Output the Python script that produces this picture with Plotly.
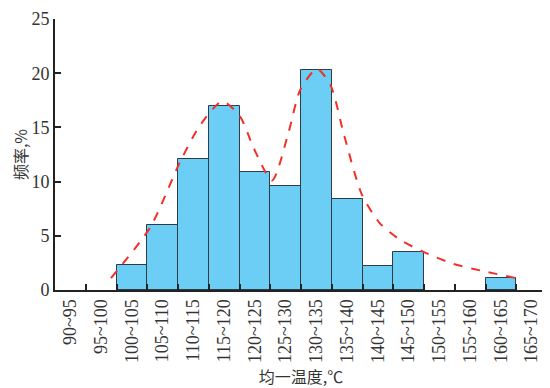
import plotly.graph_objects as go

categories = ["90~95", "95~100", "100~105", "105~110", "110~115", "115~120", "120~125",
              "125~130", "130~135", "135~140", "140~145", "145~150", "150~155",
              "155~160", "160~165", "165~170"]
bin_start = [90, 95, 100, 105, 110, 115, 120, 125, 130, 135, 140, 145, 150, 155, 160, 165]
freq = [0, 0, 2.3, 6.0, 12.1, 17.0, 10.9, 9.6, 20.3, 8.4, 2.25, 3.55, 0, 0, 1.07, 0]

curve_t = [99.1, 105.5, 110.4, 113.6, 117.2, 120.1, 122.3, 125.3, 128.0, 129.9, 132.6,
           134.8, 137.0, 139.9, 142.9, 146.2, 150.0, 154.8, 159.2, 165.2]
curve_y = [1.1, 5.8, 11.9, 15.2, 17.4, 16.0, 13.1, 10.1, 14.6, 18.5, 20.4,
           18.9, 14.3, 8.8, 6.1, 4.6, 3.5, 2.4, 1.8, 1.07]

centers = [b + 2.5 for b in bin_start]
bx = [c for c, f in zip(centers, freq) if f > 0]
by = [f for f in freq if f > 0]

font_fam = "Liberation Serif, Times New Roman, Noto Sans CJK SC, serif"

fig = go.Figure()
fig.add_trace(go.Bar(x=bx, y=by, width=5,
                     marker=dict(color="#6CCEF5", line=dict(color="#2E3C46", width=1)),
                     showlegend=False))
fig.add_trace(go.Scatter(x=curve_t, y=curve_y, mode="lines",
                         line=dict(color="#F0302A", width=2, dash="dash", shape="spline", smoothing=0.7),
                         showlegend=False))

fig.update_layout(
    width=550, height=388,
    margin=dict(l=47, r=11, t=11, b=106),
    paper_bgcolor="white", plot_bgcolor="white",
    font=dict(family=font_fam, size=17, color="#333333"),
    bargap=0,
)
fig.update_xaxes(
    range=[90, 170], tickvals=centers, ticktext=categories, tickangle=-90,
    ticks="", showgrid=False, zeroline=False, automargin=False,
    showline=True, linecolor="#222222", linewidth=2,
    tickfont=dict(size=18, family=font_fam), ticklabeloverflow="allow",
    minor=dict(tickvals=bin_start[1:] + [170], ticks="inside", ticklen=6,
               tickcolor="#222222", tickwidth=1.5, showgrid=False),
    title=dict(text="均一温度,℃", font=dict(size=16, family="Noto Sans CJK SC"), standoff=10),
)
fig.update_yaxes(
    range=[0, 25], tickvals=[0, 5, 10, 15, 20, 25],
    ticks="inside", ticklen=6, tickcolor="#222222", tickwidth=1.5,
    showgrid=False, zeroline=False, automargin=False,
    showline=True, linecolor="#222222", linewidth=2,
    tickfont=dict(size=18, family=font_fam), ticklabeloverflow="allow",
    title=dict(text="频率,%", font=dict(size=16, family="Noto Sans CJK SC"), standoff=4),
)

fig.write_html("out.html")
